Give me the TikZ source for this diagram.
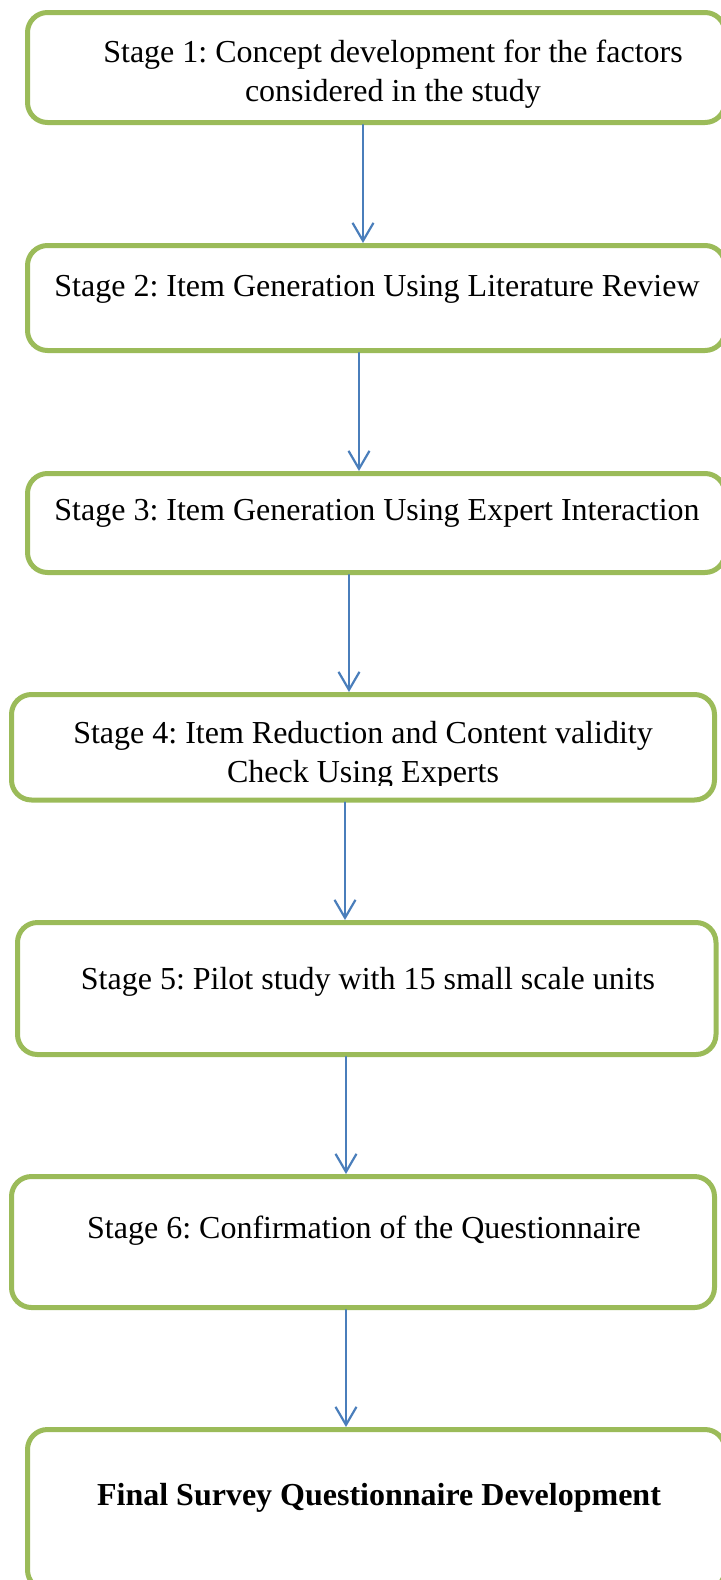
\documentclass[tikz,border=0pt]{standalone}
\usepackage{fontspec}
\setmainfont{Liberation Serif}
\usetikzlibrary{arrows.meta}
\frenchspacing

\begin{document}
\begin{tikzpicture}
[x = 0.5pt, y = -0.5pt, line cap = round,
stage/.style = {draw = stageborder, line width = 2.5pt, rounded corners = 10pt, inner sep = 0pt},
stage text/.style = {align = center, inner sep = 0pt, font = \fontsize{16}{19.5}\selectfont},
flow/.style = {draw = flowcolor, line width = 1.1pt, -{Straight Barb[length = 9pt, width = 10.5pt]}}]

\definecolor{stageborder}{HTML}{9BBB59}
\definecolor{flowcolor}{HTML}{4A7EBB}

\useasboundingbox (0, 0) rectangle (720, 1580);

% the stage boxes, top to bottom
\node[stage, minimum width = 348.75pt, minimum height = 55pt] (concept) at (376.25, 67.5) {};
\node[stage, minimum width = 348.75pt, minimum height = 52.5pt] (literature) at (376.25, 298) {};
\node[stage, minimum width = 348.75pt, minimum height = 49.5pt] (expert) at (376.25, 523) {};
\node[stage, minimum width = 351.5pt, minimum height = 52.75pt] (reduction) at (363, 747.25) {};
\node[stage, minimum width = 349.25pt, minimum height = 66pt] (pilot) at (366.75, 988.5) {};
\node[stage, minimum width = 351.5pt, minimum height = 65.5pt] (confirmation) at (363, 1242) {};
\node[stage, minimum width = 348.75pt, minimum height = 80.25pt] (final) at (376.25, 1509.75) {};

\node[stage text] (concept text) at (393, 74) {Stage 1: Concept development for the factors\\considered in the study};
\node[stage text] (literature text) at (377, 289) {Stage 2: Item Generation Using Literature Review};
\node[stage text] (expert text) at (377, 513) {Stage 3: Item Generation Using Expert Interaction};
\begin{scope}
\clip (0, 0) rectangle (720, 785);
\node[stage text] (reduction text) at (363, 755) {Stage 4: Item Reduction and Content validity\\Check Using Experts};
\end{scope}
\node[stage text] (pilot text) at (368, 982) {Stage 5: Pilot study with 15 small scale units};
\node[stage text] (confirmation text) at (364, 1231) {Stage 6: Confirmation of the Questionnaire};
\node[stage text, font = \fontsize{16}{19.5}\selectfont\bfseries] (final text) at (379, 1498) {Final Survey Questionnaire Development};

% connectors
\draw[flow] (concept.south -| 363, 0) -- (literature.north -| 363, 0);
\draw[flow] (literature.south -| 359, 0) -- (expert.north -| 359, 0);
\draw[flow] (expert.south -| 349, 0) -- (reduction.north -| 349, 0);
\draw[flow] (reduction.south -| 345, 0) -- (pilot.north -| 345, 0);
\draw[flow] (pilot.south -| 346, 0) -- (confirmation.north -| 346, 0);
\draw[flow] (confirmation.south -| 346, 0) -- (final.north -| 346, 0);
\end{tikzpicture}
\end{document}
